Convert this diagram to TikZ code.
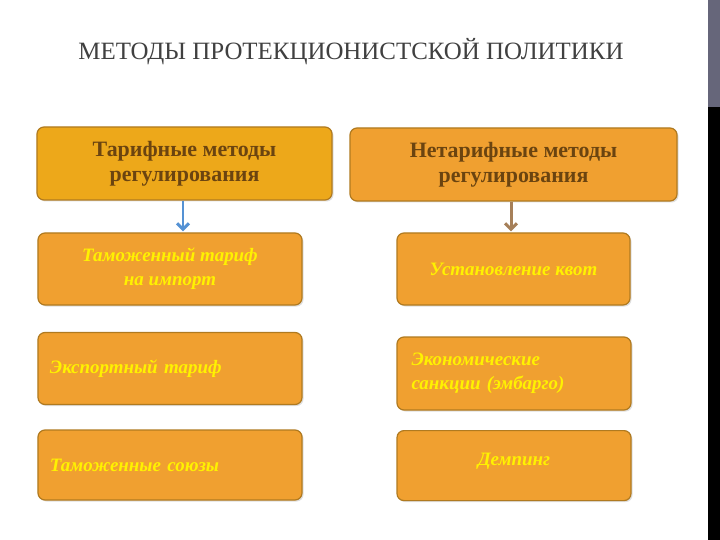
\documentclass[tikz,border=0pt]{standalone}
\usepackage{fontspec}
\setmainfont{Liberation Serif}
\usetikzlibrary{arrows.meta,shadows}
\definecolor{boxA}{HTML}{EDA81A}
\definecolor{boxB}{HTML}{F0A030}
\definecolor{edgeC}{HTML}{B07A20}
\definecolor{headT}{HTML}{6B4410}
\definecolor{itemT}{HTML}{FFF200}
\tikzset{
  hbox/.style={draw=edgeC, line width=1.2pt, rounded corners=7pt, minimum height=73bp, inner sep=2pt, align=center,
    font=\fontsize{22}{25}\selectfont\bfseries, text=headT, drop shadow={opacity=0.25, shadow xshift=1.5bp, shadow yshift=-1.5bp}},
  ibox/.style={draw=edgeC, line width=1.2pt, fill=boxB, rounded corners=7pt, minimum height=72bp, inner sep=2pt,
    font=\fontsize{19}{24}\selectfont\bfseries\itshape, text=itemT, drop shadow={opacity=0.25, shadow xshift=1.5bp, shadow yshift=-1.5bp}},
  conn/.style={line width=3pt, -{Straight Barb[length=6bp,width=12bp]}, shorten >=1bp}
}
\begin{document}
\begin{tikzpicture}[x=1bp,y=-1bp]
\useasboundingbox (0,0) rectangle (720,540);
\fill[white] (0,0) rectangle (720,540);
\fill[black!60!blue!20!gray] (708,0) rectangle (720,107);
\fill[black] (708,107) rectangle (720,540);
\node[font=\fontsize{25}{28}\selectfont, text=black!75, anchor=base] (title) at (351,60) {МЕТОДЫ ПРОТЕКЦИОНИСТСКОЙ ПОЛИТИКИ};
\node[hbox, fill=boxA, minimum width=295bp] (t) at (184.5,163.5) {Тарифные методы\\регулирования};
\node[hbox, fill=boxB, minimum width=327bp] (n) at (513.5,164.5) {Нетарифные методы\\регулирования};
\node[ibox, minimum width=264bp, align=center] (l1) at (170,269) {Таможенный тариф\\на импорт};
\node[ibox, minimum width=264bp, text width=240bp, align=left] (l2) at (170,368.5) {Экспортный тариф};
\node[ibox, minimum width=264bp, minimum height=70bp, text width=240bp, align=left] (l3) at (170,465) {Таможенные союзы};
\node[ibox, minimum width=233bp, align=center] (r1) at (513.5,269) {Установление квот};
\node[ibox, minimum width=234bp, minimum height=73bp, text width=205bp, align=left] (r2) at (514,373.5) {Экономические\\санкции (эмбарго)};
\node[ibox, minimum width=234bp, minimum height=70bp, align=center, anchor=north] (r3) at (514,430) {\raisebox{12bp}{Демпинг}};
\draw[conn, draw=cyan!55!blue!70!white] (t.south -| 183,0) -- (l1.north -| 183,0);
\draw[conn, draw=brown!60!gray] (n.south -| 511,0) -- (r1.north -| 511,0);
\end{tikzpicture}
\end{document}
